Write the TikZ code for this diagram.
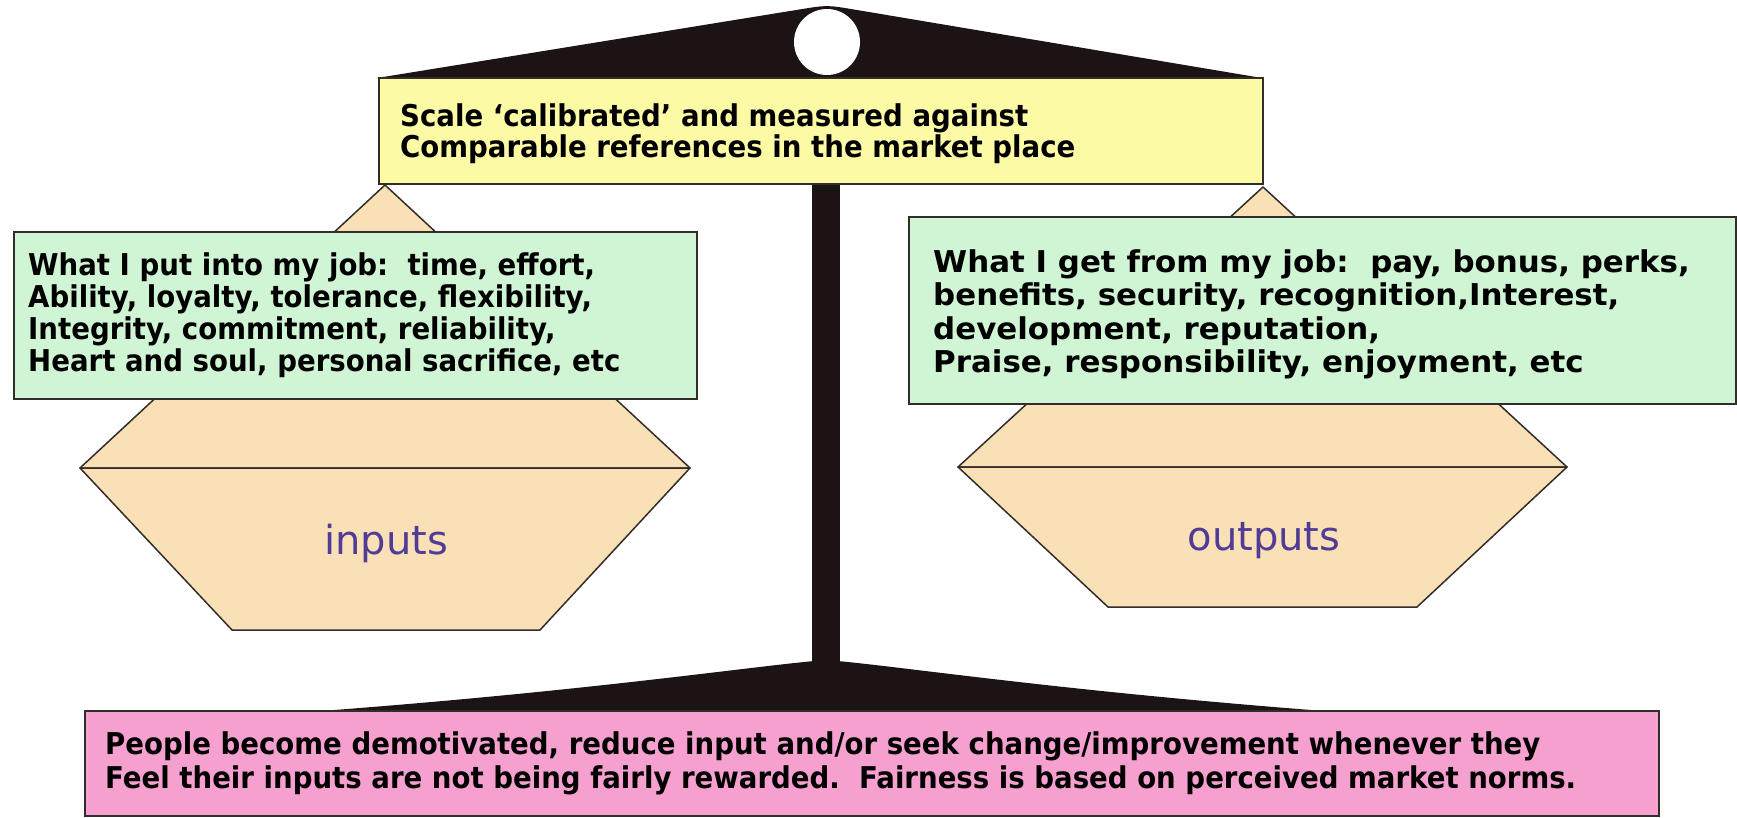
\documentclass[tikz,border=0pt]{standalone}
\usepackage{fontspec}
\setmainfont{DejaVu Sans}
\newfontfamily\boxfont{DejaVu Sans}[FakeStretch=0.92]
\newfontfamily\wideboxfont{DejaVu Sans}[FakeStretch=1.03]
\usetikzlibrary{positioning}

\definecolor{beam}{RGB}{28,20,20}
\definecolor{scaleyellow}{RGB}{252,250,165}
\definecolor{mint}{RGB}{208,245,212}
\definecolor{rose}{RGB}{246,160,208}
\definecolor{pantan}{RGB}{249,224,182}
\definecolor{panlabel}{RGB}{80,60,150}
\definecolor{edge}{RGB}{50,45,40}

\begin{document}
\begin{tikzpicture}[x=1pt,y=-1pt,
  box/.style={draw=edge,line width=1.5pt,anchor=north west,inner sep=0pt},
  boxtext/.style={anchor=west,align=left,inner sep=0pt,
    font=\boxfont\bfseries\fontsize{30}{31.7}\selectfont},
  pan/.style={fill=pantan,draw=edge,line width=1.5pt,line join=round},
  panname/.style={text=panlabel,anchor=base,font=\fontsize{40}{48}\selectfont}]

\useasboundingbox (0,0) rectangle (1737,817);

% beam, pivot and stand
\fill[beam] (377,78) -- (800,9.4) .. controls (827,5) .. (854,9.5) -- (1262,78) -- cycle;
\fill[white] (827,42) circle (33pt);
\fill[beam] (812,180) rectangle (840,668);
\fill[beam] (321,711) .. controls (600,690) and (760,665) .. (826,660)
  .. controls (892,665) and (1050,690) .. (1324,711) -- cycle;

% left pan
\filldraw[pan] (385,185) -- (80,468) -- (690,468) -- cycle;
\filldraw[pan] (80,468) -- (690,468) -- (540,630) -- (232,630) -- cycle;
\node[panname] (inlab) at (386,554) {inputs};

% right pan
\filldraw[pan] (1263,187) -- (958,467) -- (1567,467) -- cycle;
\filldraw[pan] (958,467) -- (1567,467) -- (1417,607) -- (1108,607) -- cycle;
\node[panname] (outlab) at (1264,550) {outputs};

% boxes
\node[box,fill=scaleyellow,minimum width=884pt,minimum height=106pt] (calib) at (378,77) {};
\node[boxtext,right=22pt of calib.west,yshift=-3pt,font=\boxfont\bfseries\fontsize{30}{28}\selectfont] (calibtext)
  {Scale ‘calibrated’ and measured against\\Comparable references in the market place};

\node[box,fill=mint,minimum width=683pt,minimum height=167pt] (putin) at (13,231) {};
\node[boxtext,right=15pt of putin.west] (putintext)
  {What I put into my job:\ \ time, effort,\\Ability, loyalty, tolerance, flexibility,\\Integrity, commitment, reliability,\\Heart and soul, personal sacrifice, etc};

\node[box,fill=mint,minimum width=827pt,minimum height=187pt] (getfrom) at (908,216) {};
\node[boxtext,right=25pt of getfrom.west,yshift=-4pt,font=\wideboxfont\bfseries\fontsize{30}{33.3}\selectfont] (getfromtext)
  {What I get from my job:\ \ pay, bonus, perks,\\benefits, security, recognition,Interest,\\development, reputation,\\Praise, responsibility, enjoyment, etc};

\node[box,fill=rose,minimum width=1574pt,minimum height=105pt] (verdict) at (84,710) {};
\node[boxtext,right=21pt of verdict.west,font=\boxfont\bfseries\fontsize{30}{33.5}\selectfont] (verdicttext)
  {People become demotivated, reduce input and/or seek change/improvement whenever they\\Feel their inputs are not being fairly rewarded.\ \ Fairness is based on perceived market norms.};

\end{tikzpicture}
\end{document}
